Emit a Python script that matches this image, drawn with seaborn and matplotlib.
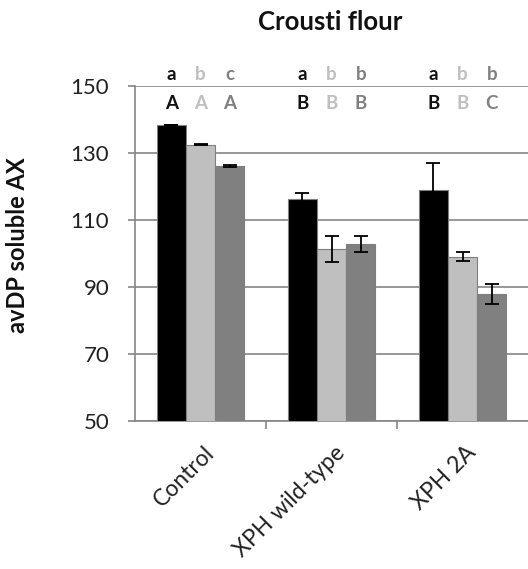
import matplotlib
matplotlib.use("Agg")
import matplotlib.pyplot as plt
import matplotlib.transforms as mtransforms
import seaborn as sns
import pandas as pd
import numpy as np

# Treatments and the three fractions shown per treatment
treatments = ["Control", "XPH wild-type", "XPH 2A"]
fractions = ["F1", "F2", "F3"]
colors = ["#000000", "#bfbfbf", "#808080"]

# Mean avDP of soluble AX (rows: treatment, columns: fraction)
means = [[138.4, 132.5, 126.1],
         [116.2, 101.4, 102.9],
         [119.0, 99.0, 87.8]]
errors = [[0.0, 0.2, 0.3],
          [1.8, 3.8, 2.4],
          [8.0, 1.3, 3.0]]

# Significance letters
lower_letters = [["a", "b", "c"], ["a", "b", "b"], ["a", "b", "b"]]
upper_letters = [["A", "A", "A"], ["B", "B", "B"], ["B", "B", "C"]]

rows = []
for i, t in enumerate(treatments):
    for j, f in enumerate(fractions):
        rows.append({"treatment": t, "fraction": f, "value": means[i][j], "err": errors[i][j]})
df = pd.DataFrame(rows)

sns.set_theme(style="white")
plt.rcParams["font.family"] = ["Lato", "DejaVu Sans"]

fig = plt.figure(figsize=(5.28, 5.69), dpi=100)
ax = fig.add_axes([0.2557, 0.2601, 0.7443, 0.5888])

sns.barplot(data=df, x="treatment", y="value", hue="fraction", order=treatments,
            hue_order=fractions, palette=colors, width=0.67, errorbar=None,
            edgecolor="#7f7f7f", linewidth=0.8, legend=False, ax=ax, zorder=3)

ax.set_ylim(50, 150)
ax.set_xlim(-0.5, 2.5)
ax.set_yticks([50, 70, 90, 110, 130, 150])
ax.yaxis.grid(True, color="#868686", linewidth=1.2, zorder=0)
ax.set_axisbelow(True)

# Error bars centred on each drawn bar, with the letter rows above
bars = [p for p in ax.patches if p.get_height() > 0]
bars.sort(key=lambda p: p.get_x())
lookup = {(r.treatment, r.fraction): r for r in df.itertuples()}
for k, p in enumerate(bars):
    i, j = divmod(k, 3)
    r = lookup[(treatments[i], fractions[j])]
    xc = p.get_x() + p.get_width() / 2
    ax.errorbar(xc, r.value, yerr=r.err, fmt="none", ecolor="#000000",
                elinewidth=1.3, capsize=4.8, capthick=1.3, zorder=4)
    txt_color = colors[j] if j else "#111111"
    ax.text(xc, 153.3, lower_letters[i][j], ha="center", va="center", fontsize=13.5,
            fontweight="bold", color=txt_color, clip_on=False)
    ax.text(xc, 144.9, upper_letters[i][j], ha="center", va="center", fontsize=13.5,
            fontweight="bold", color=txt_color, clip_on=False)

for s in ["top", "right"]:
    ax.spines[s].set_visible(False)
for s in ["left", "bottom"]:
    ax.spines[s].set_color("#868686")
    ax.spines[s].set_linewidth(1.2)

ax.tick_params(axis="y", which="major", left=True, length=5, width=1.2, color="#868686",
               labelsize=16, labelcolor="#222222", pad=13.5)
ax.set_xticks([0, 1, 2])
ax.set_xticks([0.5, 1.5], minor=True)
ax.tick_params(axis="x", which="major", bottom=False, labelsize=16.5, labelcolor="#222222", pad=9)
ax.tick_params(axis="x", which="minor", bottom=True, length=6, width=1.2, color="#868686")
ax.set_xticklabels(treatments, rotation=45, ha="right", rotation_mode="anchor")
shift = mtransforms.ScaledTranslation(3 / 100, 0, fig.dpi_scale_trans)
for lab in ax.get_xticklabels():
    lab.set_transform(lab.get_transform() + shift)

ax.set_xlabel("")
ax.set_ylabel("avDP soluble AX", fontsize=17, fontweight="bold", color="#111111")
ax.yaxis.set_label_coords(-0.27, 0.525)
fig.text(0.625, 0.962, "Crousti flour", ha="center", va="center", fontsize=18.5,
         fontweight="bold", color="#111111")

fig.savefig("out.png", dpi=100)
